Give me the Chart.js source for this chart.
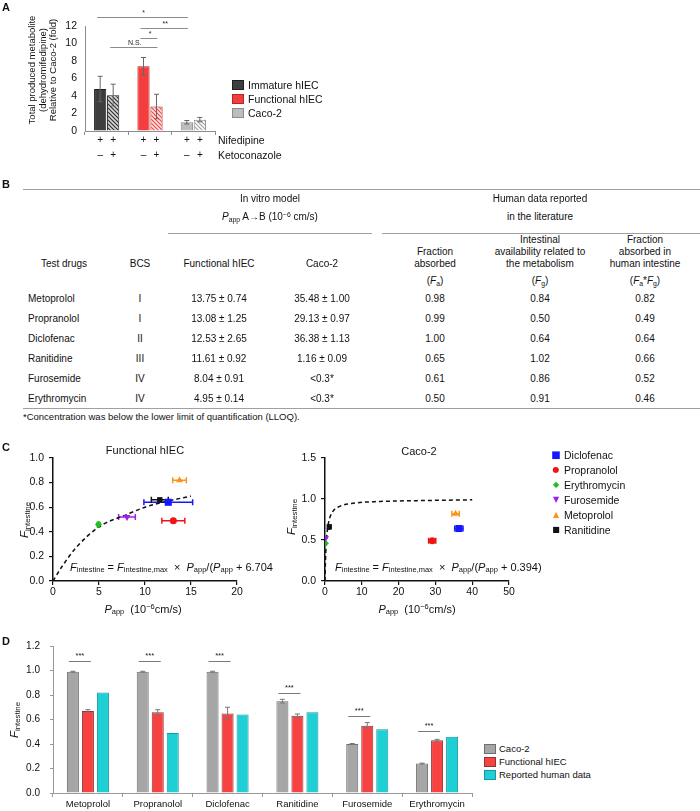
<!DOCTYPE html>
<html lang="en">
<head>
<meta charset="UTF-8">
<title>hIEC vs Caco-2</title>
<script src="https://cdn.jsdelivr.net/npm/chart.js"></script>
<style>
  body { margin: 0; background: #fff; font-family: "Liberation Sans", Arial, sans-serif; color: #111; }
  #page { position: relative; width: 700px; height: 811px; overflow: hidden; }
  #page canvas { position: absolute; }
  .t { position: absolute; white-space: nowrap; line-height: 1; }
  .c { transform: translate(-50%, -50%); text-align: center; }
  .l { transform: translate(0, -50%); }
  .rot { transform: translate(-50%, -50%) rotate(-90deg); text-align: center; }
  .hr { position: absolute; height: 0; border-top: 1.5px solid #a0a0a0; }
  .sw { position: absolute; width: 12px; height: 10px; box-sizing: border-box; transform: translate(0, -50%); }
  sub { font-size: 68%; vertical-align: -0.25em; line-height: 0; }
  sup { font-size: 68%; vertical-align: 0.45em; line-height: 0; }
  .letter { font-weight: bold; font-size: 11px; }
</style>
</head>
<body>
<div id="page">
  <canvas id="chartA" width="220" height="170" style="left:0px;top:0px"></canvas>
  <canvas id="chartC1" width="270" height="180" style="left:0px;top:440px"></canvas>
  <canvas id="chartC2" width="260" height="180" style="left:270px;top:440px"></canvas>
  <canvas id="chartD" width="480" height="185" style="left:0px;top:630px"></canvas>
</div>
<script>
// ---- panel A: dehydronifedipine production ----
const groupsA = ['Immature hIEC', 'Functional hIEC', 'Caco-2'];
const nifeOnly = [4.8, 7.4, 1.0];
const nifeOnlyErr = [1.45, 1.0, 0.2];
const withKeto = [4.1, 2.8, 1.3];
const withKetoErr = [1.25, 1.4, 0.25];
const nifedipineSigns = ['+', '+'];     // per dataset: without / with ketoconazole
const ketoconazoleSigns = ['–', '+'];

// ---- panel B: table ----
const drugs = ['Metoprolol', 'Propranolol', 'Diclofenac', 'Ranitidine', 'Furosemide', 'Erythromycin'];
const bcs = ['I', 'I', 'II', 'III', 'IV', 'IV'];
const pappHiec = [13.75, 13.08, 12.53, 11.61, 8.04, 4.95];
const pappHiecSd = [0.74, 1.25, 2.65, 0.92, 0.91, 0.14];
const pappCaco = [35.48, 29.13, 36.38, 1.16, null, null];
const pappCacoSd = [1.00, 0.97, 1.13, 0.09, null, null];
const fa = [0.98, 0.99, 1.00, 0.65, 0.61, 0.50];
const fg = [0.84, 0.50, 0.64, 1.02, 0.86, 0.91];
const faFg = [0.82, 0.49, 0.64, 0.66, 0.52, 0.46];

// ---- panel C: fitted curves ----
const cacoPlotted = [35.48, 29.13, 36.38, 1.16, 0.15, 0.10]; // <LLOQ drugs sit at ~0
const curveHiecX = [0, 1, 2.5, 5, 8, 10, 12.5, 15];
const curveHiecY = [0, 0.12, 0.27, 0.44, 0.54, 0.6, 0.65, 0.69];
const curveCacoX = [0, 0.1, 0.3, 0.6, 1, 2, 4, 8, 15, 25, 40];
const curveCacoY = [0, 0.2, 0.43, 0.6, 0.72, 0.84, 0.91, 0.95, 0.97, 0.98, 0.99];

// ---- panel D: F_intestine comparison ----
const cacoF = [0.99, 0.99, 0.99, 0.75, 0.40, 0.24];
const cacoFErr = [0.004, 0.004, 0.004, 0.015, 0.004, 0.004];
const hiecF = [0.67, 0.66, 0.65, 0.63, 0.55, 0.43];
const hiecFErr = [0.01, 0.02, 0.05, 0.015, 0.025, 0.008];
const sigLevelsD = [1.08, 1.08, 1.08, 0.82, 0.625, 0.51];

Chart.defaults.font.family = '"Liberation Sans", Arial, sans-serif';
Chart.defaults.color = '#111';
Chart.defaults.animation = false;
Chart.defaults.responsive = false;
Chart.defaults.events = [];
Chart.defaults.plugins.legend.display = false;
Chart.defaults.plugins.tooltip.enabled = false;

const page = document.getElementById('page');
function put(html, x, y, cls, style) {
  const d = document.createElement('div');
  d.className = 't ' + (cls || 'c');
  d.innerHTML = html;
  d.style.cssText = 'left:' + x + 'px;top:' + y + 'px;' + (style || '');
  page.appendChild(d);
  return d;
}
function rule(x1, x2, y) {
  const d = document.createElement('div');
  d.className = 'hr';
  d.style.cssText = 'left:' + x1 + 'px;top:' + y + 'px;width:' + (x2 - x1) + 'px';
  page.appendChild(d);
}
function swatch(x, y, bg, border) {
  const d = document.createElement('div');
  d.className = 'sw';
  d.style.cssText = 'left:' + x + 'px;top:' + y + 'px;background:' + bg + ';border:1px solid ' + border;
  page.appendChild(d);
  return d;
}

function hatch(ctx, line, bg) {
  const c = document.createElement('canvas');
  c.width = c.height = 4;
  const g = c.getContext('2d');
  g.fillStyle = bg; g.fillRect(0, 0, 4, 4);
  g.strokeStyle = line; g.lineWidth = 1.2;
  g.beginPath();
  g.moveTo(-1, -1); g.lineTo(5, 5);
  g.moveTo(-1, 3); g.lineTo(1, 5);
  g.moveTo(3, -1); g.lineTo(5, 1);
  g.stroke();
  return ctx.createPattern(c, 'repeat');
}

// error bars: yErr for bars (drawn over), xErr for scatter (drawn under points)
const errorBars = {
  id: 'errorBars',
  beforeDatasetsDraw(chart) {
    const ctx = chart.ctx, xs = chart.scales.x;
    chart.data.datasets.forEach((ds, di) => {
      if (!ds.xErr) return;
      chart.getDatasetMeta(di).data.forEach((pt, i) => {
        const e = ds.xErr[i];
        if (!e) return;
        const v = ds.data[i].x;
        const l = xs.getPixelForValue(v - e), r = xs.getPixelForValue(v + e);
        ctx.save();
        ctx.strokeStyle = ds.borderColor; ctx.lineWidth = 1.5;
        ctx.beginPath();
        ctx.moveTo(l, pt.y); ctx.lineTo(r, pt.y);
        ctx.moveTo(l, pt.y - 3); ctx.lineTo(l, pt.y + 3);
        ctx.moveTo(r, pt.y - 3); ctx.lineTo(r, pt.y + 3);
        ctx.stroke();
        ctx.restore();
      });
    });
  },
  afterDatasetsDraw(chart) {
    const ctx = chart.ctx, ys = chart.scales.y;
    chart.data.datasets.forEach((ds, di) => {
      if (!ds.yErr) return;
      chart.getDatasetMeta(di).data.forEach((bar, i) => {
        const e = ds.yErr[i];
        if (!e) return;
        const v = ds.data[i];
        const top = ys.getPixelForValue(v + e), bot = ys.getPixelForValue(v - e);
        ctx.save();
        ctx.strokeStyle = ds.errColor || '#666'; ctx.lineWidth = 1;
        ctx.beginPath();
        ctx.moveTo(bar.x, top); ctx.lineTo(bar.x, bot);
        ctx.moveTo(bar.x - 2.5, top); ctx.lineTo(bar.x + 2.5, top);
        ctx.moveTo(bar.x - 2.5, bot); ctx.lineTo(bar.x + 2.5, bot);
        ctx.stroke();
        ctx.restore();
      });
    });
  }
};

// ---------- Panel A ----------
const ctxA = document.getElementById('chartA').getContext('2d');
const solidA = ['#3e3e3e', '#f53d3d', '#bdbdbd'];
const edgeA = ['#1e1e1e', '#b52626', '#8c8c8c'];
const hatchA = [hatch(ctxA, '#2e2e2e', '#d8d8d8'), hatch(ctxA, '#f04545', '#ffe4e4'), hatch(ctxA, '#a3a3a3', '#ffffff')];
const bracketsA = [
  { from: [0, 0], to: [0, 2], level: 13.0, label: '*' },
  { from: [0, 1], to: [0, 2], level: 11.8, label: '**' },
  { from: [0, 1], to: [1, 1], level: 10.6, label: '*' },
  { from: [1, 0], to: [1, 1], level: 9.6, label: 'N.S.' }
];
const annotateA = {
  id: 'annotateA',
  afterDraw(chart) {
    const ctx = chart.ctx, ys = chart.scales.y, area = chart.chartArea;
    ctx.save();
    bracketsA.forEach(b => {
      const x1 = chart.getDatasetMeta(b.from[0]).data[b.from[1]].x;
      const x2 = chart.getDatasetMeta(b.to[0]).data[b.to[1]].x;
      const y = Math.round(ys.getPixelForValue(b.level)) + 0.5;
      ctx.strokeStyle = '#8c8c8c'; ctx.lineWidth = 1;
      ctx.beginPath(); ctx.moveTo(x1 - 3, y); ctx.lineTo(x2 + 1, y); ctx.stroke();
      ctx.fillStyle = '#222';
      ctx.font = '7px "Liberation Sans", Arial, sans-serif';
      ctx.textAlign = 'center'; ctx.textBaseline = 'bottom';
      ctx.fillText(b.label, (x1 + x2) / 2, y - 1);
    });
    ctx.font = '10px "Liberation Sans", Arial, sans-serif';
    ctx.fillStyle = '#111'; ctx.textAlign = 'center'; ctx.textBaseline = 'middle';
    chart.data.datasets.forEach((ds, di) => {
      chart.getDatasetMeta(di).data.forEach(bar => {
        ctx.fillText(nifedipineSigns[di], bar.x, area.bottom + 9);
        ctx.fillText(ketoconazoleSigns[di], bar.x, area.bottom + 24);
      });
    });
    ctx.restore();
  }
};
new Chart(ctxA, {
  type: 'bar',
  data: {
    labels: groupsA,
    datasets: [
      { label: 'Nifedipine', data: nifeOnly, yErr: nifeOnlyErr, backgroundColor: solidA, borderColor: edgeA, borderWidth: 1 },
      { label: 'Nifedipine + Ketoconazole', data: withKeto, yErr: withKetoErr, backgroundColor: hatchA, borderColor: edgeA, borderWidth: 1 }
    ]
  },
  options: {
    datasets: { bar: { categoryPercentage: 0.6, barPercentage: 0.94 } },
    layout: { padding: { top: 26, right: 5, left: 0, bottom: 0 } },
    scales: {
      x: {
        grid: { offset: true, drawOnChartArea: false, tickLength: 4, color: '#8c8c8c' },
        border: { color: '#8c8c8c' },
        ticks: { display: false },
        afterFit(s) { s.height = 39; }
      },
      y: {
        min: 0, max: 12,
        ticks: { stepSize: 2, padding: 8, font: { size: 10.5 } },
        grid: { drawOnChartArea: false, drawTicks: false },
        border: { color: '#8c8c8c' },
        afterFit(s) { s.width = 85; }
      }
    }
  },
  plugins: [errorBars, annotateA]
});
put('A', 6, 7, 'c letter');
put('Total produced metabolite<br>(dehydromifedipine)<br>Relative to Caco-2 (fold)', 43, 70, 'rot', 'font-size:9.5px;line-height:10.5px');
put('Nifedipine', 218, 140, 'l', 'font-size:10.5px');
put('Ketoconazole', 218, 155, 'l', 'font-size:10.5px');
groupsA.forEach((g, i) => {
  swatch(232, 85 + 14 * i, solidA[i], edgeA[i]);
  put(g, 248, 85 + 14 * i, 'l', 'font-size:10.5px');
});

// ---------- Panel B ----------
put('B', 6, 184, 'c letter');
rule(23, 700, 189);
put('In vitro model', 270, 199, 'c', 'font-size:10px');
put('<i>P</i><sub>app</sub> A→B (10<sup>−6</sup> cm/s)', 270, 217, 'c', 'font-size:10px');
put('Human data reported', 540, 199, 'c', 'font-size:10px');
put('in the literature', 540, 217, 'c', 'font-size:10px');
rule(168, 372, 233);
rule(382, 700, 233);
const hdr = 'font-size:10px;line-height:12px;transform:translate(-50%,-100%)';
put('Test drugs', 64, 270, 'c', hdr);
put('BCS', 140, 270, 'c', hdr);
put('Functional hIEC', 219, 270, 'c', hdr);
put('Caco-2', 322, 270, 'c', hdr);
put('Fraction<br>absorbed', 435, 270, 'c', hdr);
put('Intestinal<br>availability related to<br>the metabolism', 540, 270, 'c', hdr);
put('Fraction<br>absorbed in<br>human intestine', 645, 270, 'c', hdr);
put('(<i>F</i><sub>a</sub>)', 435, 281, 'c', 'font-size:10px');
put('(<i>F</i><sub>g</sub>)', 540, 281, 'c', 'font-size:10px');
put('(<i>F</i><sub>a</sub>*<i>F</i><sub>g</sub>)', 645, 281, 'c', 'font-size:10px');
drugs.forEach((d, i) => {
  const y = 299 + 20 * i;
  const st = 'font-size:10px';
  put(d, 28, y, 'l', st);
  put(bcs[i], 140, y, 'c', st);
  put(pappHiec[i].toFixed(2) + ' ± ' + pappHiecSd[i].toFixed(2), 219, y, 'c', st);
  put(pappCaco[i] === null ? '&lt;0.3*' : pappCaco[i].toFixed(2) + ' ± ' + pappCacoSd[i].toFixed(2), 322, y, 'c', st);
  put(fa[i].toFixed(2), 435, y, 'c', st);
  put(fg[i].toFixed(2), 540, y, 'c', st);
  put(faFg[i].toFixed(2), 645, y, 'c', st);
});
rule(23, 700, 408);
put('*Concentration was below the lower limit of quantification (LLOQ).', 23, 417, 'l', 'font-size:9.5px');

// ---------- Panel C ----------
const markerStyle = [
  { color: '#f7951f', shape: 'triangle', rot: 0, r: 4 },
  { color: '#ee1515', shape: 'circle', rot: 0, r: 3.5 },
  { color: '#1717ff', shape: 'rect', rot: 0, r: 5 },
  { color: '#111111', shape: 'rect', rot: 0, r: 3.8 },
  { color: '#a21cf0', shape: 'triangle', rot: 180, r: 4 },
  { color: '#1fbf1f', shape: 'rectRot', rot: 0, r: 3.6 }
];
function scatterSets(xs, xsd) {
  return drugs.map((name, i) => ({
    type: 'scatter', label: name,
    data: [{ x: xs[i], y: faFg[i] }],
    xErr: [xsd[i]],
    pointStyle: markerStyle[i].shape, rotation: markerStyle[i].rot, pointRadius: markerStyle[i].r,
    backgroundColor: markerStyle[i].color, borderColor: markerStyle[i].color, borderWidth: 0,
    order: 0
  }));
}
function curveSet(xs, ys) {
  return {
    type: 'line', label: 'fit',
    data: xs.map((x, i) => ({ x: x, y: ys[i] })),
    borderColor: '#111', borderWidth: 1.5, borderDash: [4, 3],
    pointRadius: 0, showLine: true, cubicInterpolationMode: 'monotone', fill: false,
    order: 5
  };
}
function axesC(xMax, xStep, yMax, yStep, yWidth) {
  const tickFont = { size: 10.5 };
  return {
    x: {
      type: 'linear', min: 0, max: xMax,
      ticks: { stepSize: xStep, padding: 1, font: tickFont },
      grid: { drawOnChartArea: false, tickLength: 4, color: '#111', lineWidth: 1.2 },
      border: { color: '#111', width: 1.5 },
      afterFit(s) { s.height = 39; }
    },
    y: {
      type: 'linear', min: 0, max: yMax,
      ticks: { stepSize: yStep, padding: 5, font: tickFont, callback: v => v.toFixed(1) },
      grid: { drawOnChartArea: false, tickLength: 4, color: '#111', lineWidth: 1.2 },
      border: { color: '#111', width: 1.5 },
      afterFit(s) { s.width = yWidth; }
    }
  };
}
new Chart(document.getElementById('chartC1'), {
  type: 'scatter',
  data: { datasets: [curveSet(curveHiecX, curveHiecY)].concat(scatterSets(pappHiec, pappHiecSd)) },
  options: {
    layout: { padding: { top: 18, right: 33, left: 0, bottom: 0 } },
    scales: axesC(20, 5, 1.0, 0.2, 53)
  },
  plugins: [errorBars]
});
new Chart(document.getElementById('chartC2'), {
  type: 'scatter',
  data: { datasets: [curveSet(curveCacoX, curveCacoY)].concat(scatterSets(cacoPlotted, pappCacoSd)) },
  options: {
    layout: { padding: { top: 18, right: 21, left: 0, bottom: 0 } },
    scales: axesC(50, 10, 1.5, 0.5, 55)
  },
  plugins: [errorBars]
});
put('C', 6, 447, 'c letter');
put('Functional hIEC', 145, 450, 'c', 'font-size:11px');
put('Caco-2', 419, 451, 'c', 'font-size:11px');
const fInt = '<i>F</i><sub>intestine</sub>';
put(fInt, 25, 520, 'rot', 'font-size:11.5px');
put(fInt, 292, 517, 'rot', 'font-size:11.5px');
const pTitle = '<i>P</i><sub>app</sub>&nbsp; (10<sup>−6</sup>cm/s)';
put(pTitle, 143, 609, 'c', 'font-size:11px');
put(pTitle, 417, 609, 'c', 'font-size:11px');
put(fInt + ' = <i>F</i><sub>intestine,max</sub> &nbsp;× &nbsp;<i>P</i><sub>app</sub>/(<i>P</i><sub>app</sub> + 6.704', 70, 567, 'l', 'font-size:11px');
put(fInt + ' = <i>F</i><sub>intestine,max</sub> &nbsp;× &nbsp;<i>P</i><sub>app</sub>/(<i>P</i><sub>app</sub> + 0.394)', 335, 567, 'l', 'font-size:11px');
const legendOrderC = [2, 1, 5, 4, 0, 3];
const glyphs = { rect: '■', circle: '●', rectRot: '◆', triangle: '▲' };
legendOrderC.forEach((di, k) => {
  const m = markerStyle[di];
  const g = m.shape === 'triangle' && m.rot === 180 ? '▼' : glyphs[m.shape];
  const size = di === 2 ? 10 : 8;
  put(g, 556, 455 + 15 * k, 'c', 'font-family:\'DejaVu Sans\';font-size:' + size + 'px;color:' + m.color);
  put(drugs[di], 564, 455 + 15 * k, 'l', 'font-size:10.5px');
});

// ---------- Panel D ----------
const sigD = {
  id: 'sigD',
  afterDraw(chart) {
    const ctx = chart.ctx, ys = chart.scales.y;
    const m0 = chart.getDatasetMeta(0), m1 = chart.getDatasetMeta(1);
    ctx.save();
    sigLevelsD.forEach((lv, i) => {
      const x1 = m0.data[i].x - 4, x2 = m1.data[i].x + 3;
      const y = Math.round(ys.getPixelForValue(lv)) + 0.5;
      ctx.strokeStyle = '#7a7a7a'; ctx.lineWidth = 1;
      ctx.beginPath(); ctx.moveTo(x1, y); ctx.lineTo(x2, y); ctx.stroke();
      ctx.fillStyle = '#222';
      ctx.font = '7.5px "Liberation Sans", Arial, sans-serif';
      ctx.textAlign = 'center'; ctx.textBaseline = 'bottom';
      ctx.fillText('***', (x1 + x2) / 2, y - 2);
    });
    ctx.restore();
  }
};
const colorsD = [
  { bg: '#a6a6a6', edge: '#6e6e6e' },
  { bg: '#f84242', edge: '#8e3535' },
  { bg: '#1ecfd6', edge: '#17979d' }
];
const seriesD = ['Caco-2', 'Functional hIEC', 'Reported human data'];
new Chart(document.getElementById('chartD'), {
  type: 'bar',
  data: {
    labels: drugs,
    datasets: [
      { label: seriesD[0], data: cacoF, yErr: cacoFErr, backgroundColor: colorsD[0].bg, borderColor: colorsD[0].edge, borderWidth: 1, errColor: '#777' },
      { label: seriesD[1], data: hiecF, yErr: hiecFErr, backgroundColor: colorsD[1].bg, borderColor: colorsD[1].edge, borderWidth: 1, errColor: '#777' },
      { label: seriesD[2], data: faFg, backgroundColor: colorsD[2].bg, borderColor: colorsD[2].edge, borderWidth: 1 }
    ]
  },
  options: {
    datasets: { bar: { categoryPercentage: 0.645, barPercentage: 0.8 } },
    layout: { padding: { top: 9, right: 8, left: 0, bottom: 0 } },
    scales: {
      x: {
        grid: { offset: true, drawOnChartArea: false, tickLength: 4, color: '#9a9a9a' },
        border: { color: '#9a9a9a' },
        ticks: { padding: 2, font: { size: 9.5 } },
        afterFit(s) { s.height = 22; }
      },
      y: {
        min: 0, max: 1.2,
        ticks: { stepSize: 0.2, padding: 10, font: { size: 10 }, callback: v => v.toFixed(1) },
        grid: { drawOnChartArea: false, tickLength: 3, color: '#9a9a9a' },
        border: { color: '#9a9a9a' },
        afterFit(s) { s.width = 53; }
      }
    }
  },
  plugins: [errorBars, sigD]
});
put('D', 6, 641, 'c letter');
put(fInt, 15, 720, 'rot', 'font-size:11.5px');
seriesD.forEach((s, i) => {
  swatch(484, 749 + 13 * i, colorsD[i].bg, colorsD[i].edge);
  put(s, 499, 749 + 13 * i, 'l', 'font-size:9.5px');
});
</script>
</body>
</html>
